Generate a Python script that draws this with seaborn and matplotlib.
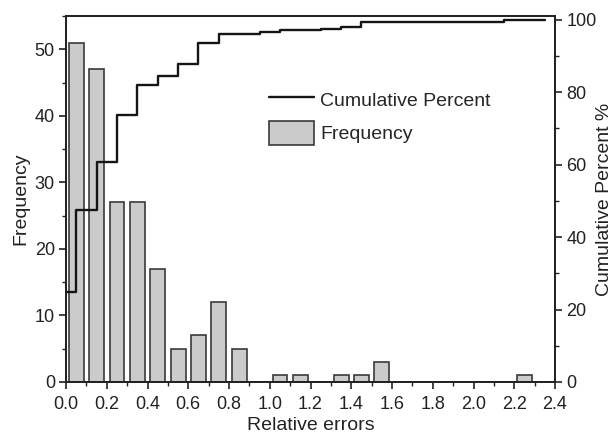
import numpy as np
import pandas as pd
import matplotlib
matplotlib.use("Agg")
import matplotlib.pyplot as plt
from matplotlib.ticker import MultipleLocator, FormatStrFormatter
from matplotlib.lines import Line2D
from matplotlib.patches import Patch
import seaborn as sns

# Histogram bins of relative error (lower edges, width 0.1)
bin_left = [0.0, 0.1, 0.2, 0.3, 0.4, 0.5, 0.6, 0.7, 0.8, 0.9, 1.0, 1.1,
            1.2, 1.3, 1.4, 1.5, 1.6, 1.7, 1.8, 1.9, 2.0, 2.1, 2.2, 2.3]
frequency = [51, 47, 27, 27, 17, 5, 7, 12, 5, 0, 1, 1,
             0, 1, 1, 3, 0, 0, 0, 0, 0, 0, 1, 0]
bin_width = 0.1

x_ticks = [0.0, 0.2, 0.4, 0.6, 0.8, 1.0, 1.2, 1.4, 1.6, 1.8, 2.0, 2.2, 2.4]
freq_ticks = [0, 10, 20, 30, 40, 50]
pct_ticks = [0, 20, 40, 60, 80, 100]

sns.set_theme(style="ticks")
plt.rcParams["font.family"] = ["Liberation Sans", "DejaVu Sans"]

bin_left = np.array(bin_left)
frequency = np.array(frequency, dtype=float)
centers = bin_left + bin_width / 2
cum_pct = np.cumsum(frequency) / frequency.sum() * 100

hist_df = pd.DataFrame({"error": centers, "count": frequency})

fig = plt.figure(figsize=(6.14, 4.37), dpi=100)
ax = fig.add_axes([0.1075, 0.126, 0.7965, 0.837])

bar_face = "#cbcbcb"
edge_col = "#3a3a3a"
sns.histplot(data=hist_df, x="error", weights="count",
             binwidth=bin_width,
             binrange=(float(bin_left[0]), float(bin_left[-1] + bin_width)),
             shrink=0.73, color=bar_face, edgecolor=edge_col, linewidth=1.2,
             alpha=1, ax=ax)

ax2 = ax.twinx()
# cumulative step line: each level spans the bin before its center
step_x = np.r_[centers - bin_width, centers[-1]]
step_y = np.r_[cum_pct, cum_pct[-1]]
sns.lineplot(x=step_x, y=step_y, drawstyle="steps-post", color="#151515",
             linewidth=1.7, ax=ax2, sort=False)

ax.set_xlim(0, 2.4)
ax.set_ylim(0, 55)
ax2.set_ylim(0, 101)

ax.set_xticks(x_ticks)
ax.xaxis.set_major_formatter(FormatStrFormatter("%.1f"))
ax.xaxis.set_minor_locator(MultipleLocator(0.1))
ax.set_yticks(freq_ticks)
ax.yaxis.set_minor_locator(MultipleLocator(5))
ax2.set_yticks(pct_ticks)
ax2.yaxis.set_minor_locator(MultipleLocator(10))

tick_kw = dict(direction="out", color="#222222", labelcolor="#222222",
               labelsize=13)
for a in (ax, ax2):
    a.tick_params(which="major", length=5, width=1.2, pad=3, **tick_kw)
    a.tick_params(which="minor", length=3, width=1.0, **tick_kw)
    for s in a.spines.values():
        s.set_visible(True)
        s.set_color("#222222")
        s.set_linewidth(1.3)
ax.tick_params(axis="x", which="major", pad=5)

ax.set_xlabel("Relative errors", fontsize=14, color="#222222", labelpad=3)
ax.set_ylabel("Frequency", fontsize=14, color="#222222", labelpad=4)
ax2.set_ylabel("Cumulative Percent %", fontsize=14, color="#222222",
               labelpad=0)

handles = [Line2D([], [], color="#151515", linewidth=1.7),
           Patch(facecolor=bar_face, edgecolor=edge_col, linewidth=1.2)]
ax2.legend(handles, ["Cumulative Percent", "Frequency"], loc="upper left",
           bbox_to_anchor=(0.40, 0.826), frameon=False, fontsize=14,
           handlelength=2.3, handleheight=1.5, handletextpad=0.3,
           labelspacing=0.5, borderaxespad=0)

fig.savefig("out.png", dpi=100)
